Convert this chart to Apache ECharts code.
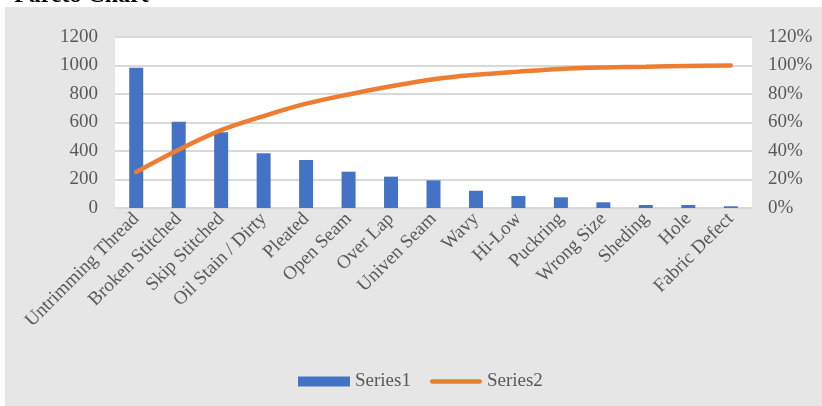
<!DOCTYPE html>
<html>
<head>
<meta charset="utf-8">
<script src="https://cdn.jsdelivr.net/npm/echarts@6/dist/echarts.min.js"></script>
<style>
html,body{margin:0;padding:0;background:#ffffff;}
#c{width:822px;height:406px;}
</style>
</head>
<body>
<div id="c"></div>
<script>
const categories = ["Untrimming Thread","Broken Stitched","Skip Stitched","Oil Stain / Dirty","Pleated","Open Seam","Over Lap","Univen Seam","Wavy","Hi-Low","Puckring","Wrong Size","Sheding","Hole","Fabric Defect"];
const series1 = [985,606,531,384,337,255,220,194,121,84,75,40,21,21,12];
const series2 = [0.253,0.409,0.546,0.645,0.732,0.797,0.854,0.904,0.935,0.957,0.976,0.986,0.992,0.997,1.0];
const leftTicks = {min:0,max:1200,interval:200};
const rightTicks = {min:0,max:1.2,interval:0.2};

const font = "'Liberation Serif','Times New Roman',serif";
const txt = '#595959';
const fs = 19;
const chart = echarts.init(document.getElementById('c'));
chart.setOption({
  animation:false,
  backgroundColor:'#ffffff',
  graphic:[
    {type:'text',x:14,y:8,z:-12,style:{text:'Pareto Chart',font:"bold 24px "+font,fill:'#000000',verticalAlign:'bottom'}},
    {type:'rect',left:5,top:7,z:-10,shape:{width:817,height:399},style:{fill:'#e6e6e6'}},
    {type:'rect',left:115,top:37,z:-9,shape:{width:637,height:171},style:{fill:'#ffffff'}}
  ],
  grid:{left:115,right:70,top:37,bottom:198,containLabel:false},
  legend:{
    left:298,top:372,padding:0,itemWidth:52,itemHeight:10,itemGap:19,
    textStyle:{fontFamily:font,fontSize:fs,color:txt},
    data:[{name:'Series1',icon:'rect'},
          {name:'Series2',icon:'path://M2.5,0 L54.5,0 A2.5,2.5 0 0 1 54.5,5 L2.5,5 A2.5,2.5 0 0 1 2.5,0 Z'}]
  },
  xAxis:{
    type:'category',data:categories,
    axisLine:{lineStyle:{color:'#d9d9d9',width:2}},
    axisTick:{show:false},
    axisLabel:{interval:0,rotate:45,margin:8,fontFamily:font,fontSize:fs,color:txt}
  },
  yAxis:[
    {type:'value',min:leftTicks.min,max:leftTicks.max,interval:leftTicks.interval,
     axisLine:{show:false},axisTick:{show:false},
     splitLine:{lineStyle:{color:'#d9d9d9',width:2}},
     axisLabel:{margin:17,fontFamily:font,fontSize:fs,color:txt,formatter:v=>String(v)}},
    {type:'value',min:rightTicks.min,max:rightTicks.max,interval:rightTicks.interval,
     axisLine:{show:false},axisTick:{show:false},splitLine:{show:false},
     axisLabel:{margin:16,fontFamily:font,fontSize:fs,color:txt,
       formatter:v=>Math.round(v*100)+'%'}}
  ],
  series:[
    {name:'Series1',type:'bar',data:series1,barWidth:14,itemStyle:{color:'#4472C4'}},
    {name:'Series2',type:'line',yAxisIndex:1,data:series2,smooth:0.35,symbol:'none',
     lineStyle:{color:'#ED7D31',width:4.5,cap:'round'},itemStyle:{color:'#ED7D31'}}
  ]
});
</script>
</body>
</html>
